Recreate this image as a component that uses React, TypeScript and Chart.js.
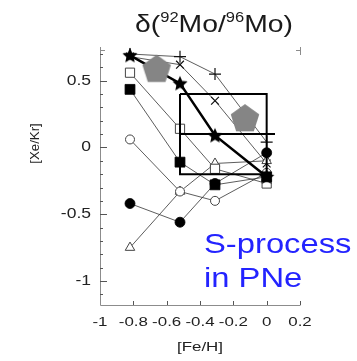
import React, { useEffect, useRef } from "react";
import { Chart, registerables } from "chart.js";

Chart.register(...registerables);

// ---- data ----
const feH = [-0.82, -0.52, -0.31, 0];
const plusSeries = [0.7, 0.68, 0.55, 0.04];
const crossSeries = [0.68, 0.62, 0.35, -0.12];
const starSeries = [0.69, 0.48, 0.09, -0.22];
const openSquareSeries = [0.56, 0.14, -0.16, -0.27];
const filledSquareSeries = [0.435, -0.11, -0.28, -0.22];
const openCircleSeries = [0.06, -0.33, -0.4, -0.19];
const filledCircleSeries = [-0.42, -0.56, -0.27, -0.04];
const openTriangleSeries = [-0.75, -0.33, -0.12, -0.1];

const moFeH = [-0.66, -0.13];
const moXeKr = [0.59, 0.22];

const boxX = [-0.52, 0, 0, -0.52, -0.52];
const boxY = [0.4, 0.4, -0.2, -0.2, 0.4];
const midX = [-0.52, 0.05];
const midY = [0.1, 0.1];

const xTicks = [-1, -0.8, -0.6, -0.4, -0.2, 0, 0.2];
const xTickLabels = ["-1", "-0.8", "-0.6", "-0.4", "-0.2", "0", "0.2"];
const yTicks = [0.5, 0, -0.5, -1];
const yTickLabels = ["0.5", "0", "-0.5", "-1"];
const yMinorTicks = [0.7, 0.6, 0.4, 0.3, 0.2, 0.1, -0.1, -0.2, -0.3, -0.4, -0.6, -0.7, -0.8, -0.9, -1.1];

const titleParts = ["δ(", "92", "Mo/", "96", "Mo)"];
const xTitle = "[Fe/H]";
const yTitle = "[Xe/Kr]";
const noteLines = ["S-process", "in PNe"];

const FONT = "'Liberation Sans', Arial, sans-serif";

function pts(xs: number[], ys: number[]) {
  return xs.map((x, i) => ({ x, y: ys[i] }));
}

function makePentagon(): HTMLCanvasElement {
  const c = document.createElement("canvas");
  c.width = 32;
  c.height = 32;
  const g = c.getContext("2d")!;
  g.fillStyle = "#858585";
  g.beginPath();
  for (let i = 0; i < 5; i++) {
    const a = -Math.PI / 2 + (i * 2 * Math.PI) / 5;
    const px = 16 + 15 * Math.cos(a);
    const py = 17 + 15 * Math.sin(a);
    if (i === 0) g.moveTo(px, py);
    else g.lineTo(px, py);
  }
  g.closePath();
  g.fill();
  return c;
}

function makeStar(): HTMLCanvasElement {
  const c = document.createElement("canvas");
  c.width = 18;
  c.height = 18;
  const g = c.getContext("2d")!;
  g.fillStyle = "#000";
  g.beginPath();
  for (let i = 0; i < 10; i++) {
    const a = -Math.PI / 2 + (i * Math.PI) / 5;
    const r = i % 2 === 0 ? 8 : 3.8;
    const px = 9 + r * Math.cos(a);
    const py = 9.5 + r * Math.sin(a);
    if (i === 0) g.moveTo(px, py);
    else g.lineTo(px, py);
  }
  g.closePath();
  g.fill();
  return c;
}

function stretchText(
  ctx: CanvasRenderingContext2D,
  text: string,
  x: number,
  y: number,
  font: string,
  align: CanvasTextAlign,
  baseline: CanvasTextBaseline,
  color: string,
  sx: number
) {
  ctx.save();
  ctx.font = font;
  ctx.fillStyle = color;
  ctx.textAlign = align;
  ctx.textBaseline = baseline;
  ctx.translate(x, y);
  ctx.scale(sx, 1);
  ctx.fillText(text, 0, 0);
  ctx.restore();
}

const decorPlugin = {
  id: "decor",
  afterDraw(chart: any) {
    const ctx: CanvasRenderingContext2D = chart.ctx;
    const xs = chart.scales.x;
    const ys = chart.scales.y;
    const { left, right, top, bottom } = chart.chartArea;
    ctx.save();
    // axes
    ctx.strokeStyle = "#8c8c8c";
    ctx.lineWidth = 1;
    ctx.beginPath();
    ctx.moveTo(left + 0.5, top - 3);
    ctx.lineTo(left + 0.5, bottom + 0.5);
    ctx.lineTo(right + 0.5, bottom + 0.5);
    ctx.stroke();
    // corner marks at top
    ctx.beginPath();
    ctx.moveTo(left + 0.5, top + 0.5);
    ctx.lineTo(left + 5, top + 0.5);
    ctx.moveTo(right + 0.5, top - 3);
    ctx.lineTo(right + 0.5, top + 5);
    ctx.moveTo(right - 4, top + 0.5);
    ctx.lineTo(right + 0.5, top + 0.5);
    ctx.stroke();
    // y ticks
    ctx.strokeStyle = "#555";
    ctx.beginPath();
    yTicks.forEach((v) => {
      const p = Math.round(ys.getPixelForValue(v)) + 0.5;
      ctx.moveTo(left, p);
      ctx.lineTo(left + 7, p);
    });
    yMinorTicks.forEach((v) => {
      const p = Math.round(ys.getPixelForValue(v)) + 0.5;
      ctx.moveTo(left, p);
      ctx.lineTo(left + 3, p);
    });
    // x ticks
    xTicks.forEach((v) => {
      if (v === -1) return;
      const p = Math.round(xs.getPixelForValue(v)) + 0.5;
      ctx.moveTo(p, bottom);
      ctx.lineTo(p, bottom - 4);
    });
    ctx.stroke();
    ctx.restore();

    // tick labels
    yTicks.forEach((v, i) => {
      stretchText(ctx, yTickLabels[i], left - 9, ys.getPixelForValue(v), `14px ${FONT}`, "right", "middle", "#222", 1.25);
    });
    xTicks.forEach((v, i) => {
      stretchText(ctx, xTickLabels[i], xs.getPixelForValue(v), bottom + 17, `13px ${FONT}`, "center", "middle", "#222", 1.3);
    });
    // axis titles
    stretchText(ctx, xTitle, (left + right) / 2, bottom + 46, `13px ${FONT}`, "center", "alphabetic", "#222", 1.3);
    ctx.save();
    ctx.translate(36, ys.getPixelForValue(0) - 4);
    ctx.rotate(-Math.PI / 2);
    stretchText(ctx, yTitle, 0, 0, `12px ${FONT}`, "center", "middle", "#222", 1.1);
    ctx.restore();

    // title with superscripts
    const sx = 1.18;
    const big = `24px ${FONT}`;
    const small = `14px ${FONT}`;
    ctx.save();
    const widths = titleParts.map((t, i) => {
      ctx.font = i % 2 === 1 ? small : big;
      return ctx.measureText(t).width * sx;
    });
    ctx.restore();
    const total = widths.reduce((a, b) => a + b, 0);
    let cx = 214 - total / 2;
    titleParts.forEach((t, i) => {
      const sup = i % 2 === 1;
      stretchText(ctx, t, cx, sup ? 22 : 32, sup ? small : big, "left", "alphabetic", "#1a1a1a", sx);
      cx += widths[i];
    });

    // annotation
    stretchText(ctx, noteLines[0], 204, 253, `28px ${FONT}`, "left", "alphabetic", "#2323ff", 1.17);
    stretchText(ctx, noteLines[1], 204, 287, `28px ${FONT}`, "left", "alphabetic", "#2323ff", 1.17);
  },
};

export default function App() {
  const ref = useRef<HTMLCanvasElement | null>(null);
  useEffect(() => {
    if (!ref.current) return;
    const pentagon = makePentagon();
    const star = makeStar();
    const thin = { borderColor: "#333", borderWidth: 0.8, showLine: true, clip: false as any };
    const chart = new Chart(ref.current, {
      type: "scatter",
      data: {
        datasets: [
          {
            data: pts(moFeH, moXeKr),
            showLine: false,
            pointStyle: pentagon as any,
            pointRadius: 16,
            clip: false as any,
          },
          {
            ...thin,
            data: pts(midX, midY),
            borderColor: "#000",
            borderWidth: 2,
            pointRadius: 0,
          },
          {
            ...thin,
            data: pts(boxX, boxY),
            borderColor: "#000",
            borderWidth: 2,
            pointRadius: 0,
          },
          {
            ...thin,
            data: pts(feH, starSeries),
            borderColor: "#000",
            borderWidth: 2.5,
            pointStyle: star as any,
            pointRadius: 8,
          },
          {
            ...thin,
            data: pts(feH, filledSquareSeries),
            pointStyle: "rect",
            pointRadius: 7,
            backgroundColor: "#000",
            pointBorderColor: "#000",
          },
          {
            ...thin,
            data: pts(feH, openSquareSeries),
            pointStyle: "rect",
            pointRadius: 6.5,
            backgroundColor: "#fff",
            pointBorderColor: "#444",
            pointBorderWidth: 1,
          },
          {
            ...thin,
            data: pts(feH, filledCircleSeries),
            pointStyle: "circle",
            pointRadius: 5,
            backgroundColor: "#000",
            pointBorderColor: "#000",
          },
          {
            ...thin,
            data: pts(feH, openCircleSeries),
            pointStyle: "circle",
            pointRadius: 4.5,
            backgroundColor: "#fff",
            pointBorderColor: "#444",
            pointBorderWidth: 1,
          },
          {
            ...thin,
            data: pts(feH, openTriangleSeries),
            pointStyle: "triangle",
            pointRadius: 5.5,
            backgroundColor: "#fff",
            pointBorderColor: "#444",
            pointBorderWidth: 1,
          },
          {
            ...thin,
            data: pts(feH, plusSeries),
            pointStyle: "cross",
            pointRadius: 6,
            pointBorderColor: "#111",
            pointBorderWidth: 1.2,
          },
          {
            ...thin,
            data: pts(feH, crossSeries),
            pointStyle: "crossRot",
            pointRadius: 5.5,
            pointBorderColor: "#111",
            pointBorderWidth: 1.2,
          },
        ],
      },
      options: {
        animation: false,
        responsive: false,
        devicePixelRatio: 1,
        layout: { padding: { left: 100, right: 57, top: 50, bottom: 56 } },
        plugins: {
          legend: { display: false },
          title: { display: false },
          tooltip: { enabled: false },
        },
        scales: {
          x: { type: "linear", min: -1, max: 0.2, display: false },
          y: { type: "linear", min: -1.18, max: 0.73, display: false },
        },
      },
      plugins: [decorPlugin],
    });
    return () => chart.destroy();
  }, []);
  return (
    <div style={{ position: "absolute", left: 0, top: 0, width: 357, height: 361, background: "#fff" }}>
      <canvas ref={ref} width={357} height={361} style={{ width: 357, height: 361, display: "block" }} />
    </div>
  );
}
